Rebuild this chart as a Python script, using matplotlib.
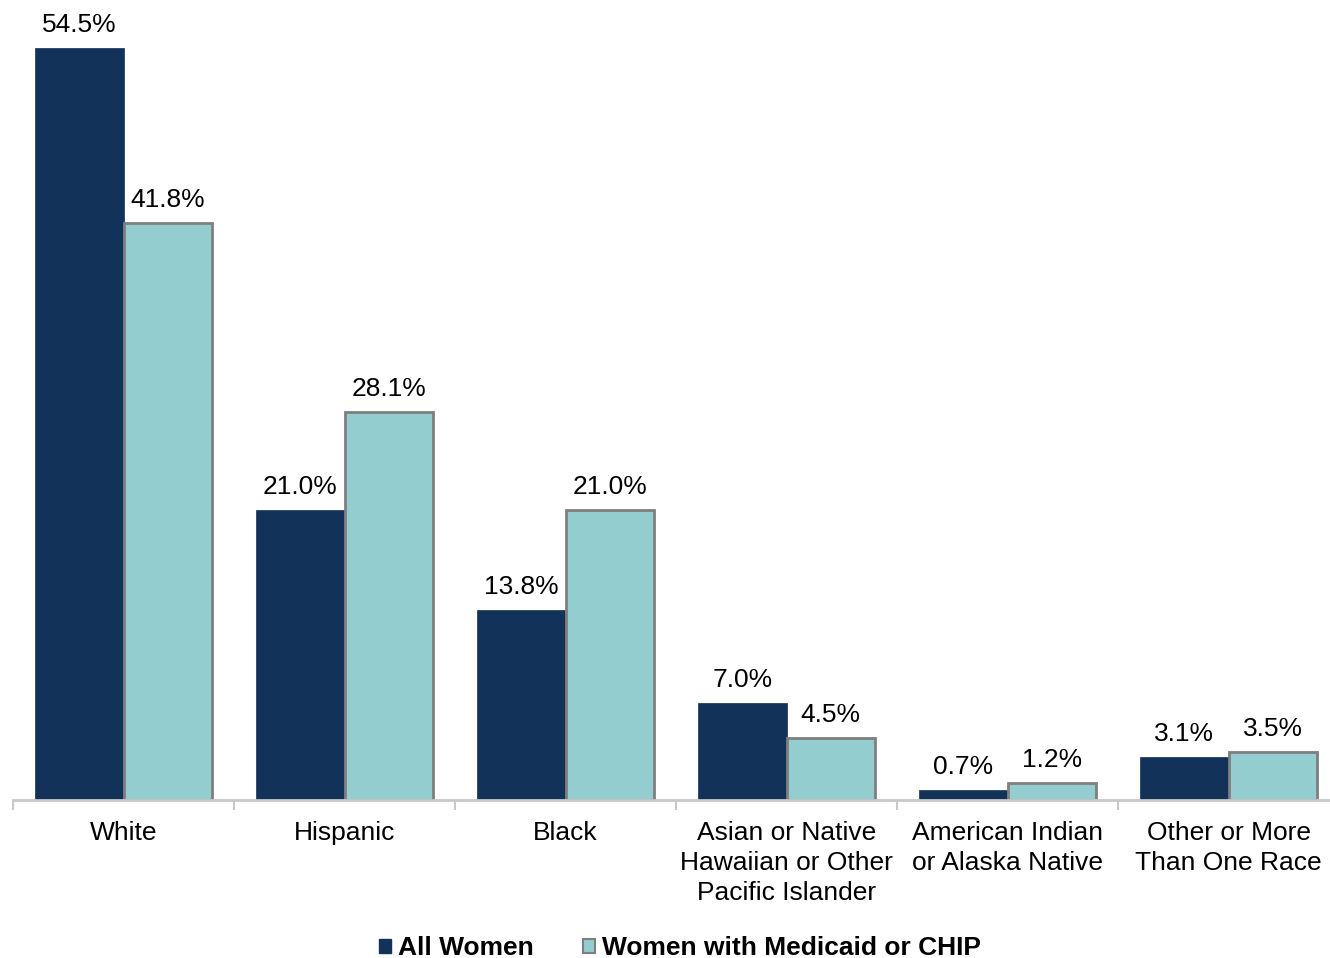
import matplotlib
matplotlib.use("Agg")
import matplotlib.pyplot as plt
import numpy as np
from matplotlib.patches import Patch

categories = ["White", "Hispanic", "Black",
              "Asian or Native\nHawaiian or Other\nPacific Islander",
              "American Indian\nor Alaska Native",
              "Other or More\nThan One Race"]
all_women = [54.5, 21.0, 13.8, 7.0, 0.7, 3.1]
medicaid = [41.8, 28.1, 21.0, 4.5, 1.2, 3.5]
series_names = ["All Women", "Women with Medicaid or CHIP"]

plt.rcParams['font.family'] = ['Liberation Sans', 'DejaVu Sans']

dark = "#13325a"
light = "#94cdcf"
edge = "#7f7f7f"

fig = plt.figure(figsize=(13.3, 9.58), dpi=100)
# axis runs a bit past the right edge of the picture, like the original
ax = fig.add_axes([13/1330, 1 - 800/958, 1326/1330, 800/958])

x = np.arange(len(categories))
w = 0.4
ax.bar(x - w/2, all_women, w, color=dark, edgecolor=dark, linewidth=0.5)
ax.bar(x + w/2, medicaid, w, color=light, edgecolor=edge, linewidth=2)

for i in range(len(categories)):
    ax.text(x[i] - w/2, all_women[i] + 0.8, "%.1f%%" % all_women[i],
            ha="center", va="bottom", fontsize=19)
    ax.text(x[i] + w/2, medicaid[i] + 0.8, "%.1f%%" % medicaid[i],
            ha="center", va="bottom", fontsize=19)

ax.set_xlim(-0.5, len(categories) - 0.5)
ax.set_ylim(0, 800/13.8)
for s in ["top", "right", "left"]:
    ax.spines[s].set_visible(False)
ax.spines["bottom"].set_color("#c8c8c8")
ax.spines["bottom"].set_linewidth(2)
ax.set_yticks([])

ax.set_xticks(np.arange(len(categories) + 1) - 0.5, minor=False)
ax.set_xticklabels([""] * (len(categories) + 1))
ax.tick_params(axis="x", length=7, width=1.5, color="#c8c8c8")
for i, c in enumerate(categories):
    ax.text(x[i], -1.5, c, ha="center", va="top", fontsize=19,
            linespacing=1.33, transform=ax.transData)

handles = [Patch(facecolor=dark, edgecolor=dark),
           Patch(facecolor=light, edgecolor=edge, linewidth=1.5)]
fig.legend(handles, series_names, loc="center", bbox_to_anchor=(680/1330, 1 - 948/958),
           ncol=2, frameon=False, prop={"size": 19, "weight": "bold"},
           handlelength=0.45, handleheight=0.45, handletextpad=0.25, columnspacing=1.9)

fig.savefig("out.png", dpi=100)
